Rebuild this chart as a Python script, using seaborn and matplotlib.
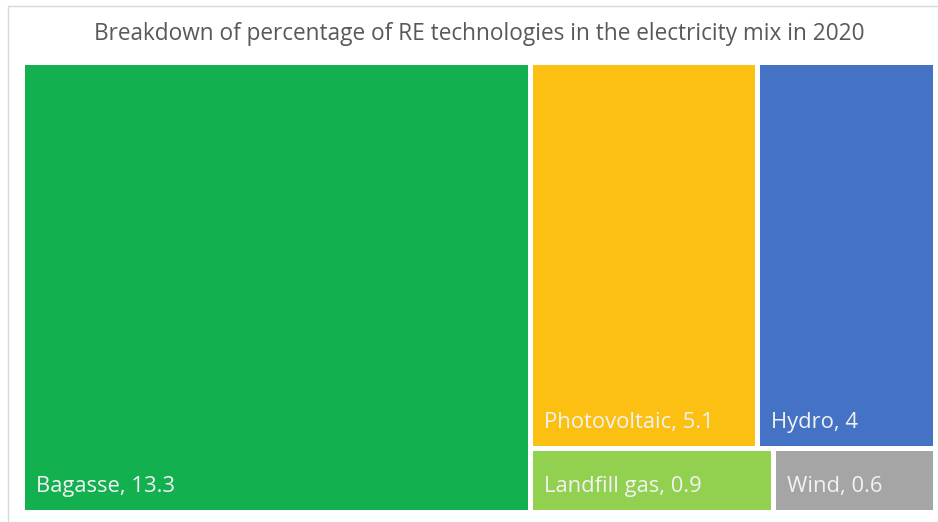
import matplotlib
matplotlib.use("Agg")
import matplotlib.pyplot as plt
from matplotlib.patches import Rectangle
import seaborn as sns

# ---- data ----
categories = ["Bagasse", "Photovoltaic", "Hydro", "Landfill gas", "Wind"]
values = [13.3, 5.1, 4.0, 0.9, 0.6]
colors = ["#13B04F", "#FBC012", "#4472C4", "#92D050", "#A5A5A5"]
title = "Breakdown of percentage of RE technologies in the electricity mix in 2020"

sns.set_theme(style="white")
plt.rcParams["font.family"] = ["Open Sans", "DejaVu Sans"]

W, H = 938, 522
fig = plt.figure(figsize=(W / 100, H / 100), dpi=100)
fig.patch.set_facecolor("white")

# thin frame (left/top) like the source image
frame = fig.add_axes([0, 0, 1, 1])
frame.set_xlim(0, W); frame.set_ylim(H, 0); frame.axis("off")
frame.plot([7.5, 7.5], [5.5, H], color="#D9D9D9", lw=1)
frame.plot([7.5, W], [5.5, 5.5], color="#D9D9D9", lw=1)

# plot area (extended by half the gap so white edges make the gutters)
L, R, T, B = 21.5, 934.5, 61.5, 511.5
ax = fig.add_axes([L / W, (H - B) / H, (R - L) / W, (B - T) / H])
ax.set_xlim(0, 1); ax.set_ylim(0, 1); ax.axis("off")

# Layout: the largest item takes a full-height column; the rest are
# arranged in rows of two, each row's height proportional to its sum.
total = sum(values)
rects = []
w0 = values[0] / total
rects.append((0, 0, w0, 1))
rest = values[1:]
rest_total = sum(rest)
rows = [rest[i:i + 2] for i in range(0, len(rest), 2)]
y_top = 1.0
for row in rows:
    h = sum(row) / rest_total
    x = w0
    for v in row:
        w = (1 - w0) * v / sum(row)
        rects.append((x, y_top - h, w, h))
        x += w
    y_top -= h

for (x, y, w, h), cat, val, col in zip(rects, categories, values, colors):
    ax.add_patch(Rectangle((x, y), w, h, facecolor=col, edgecolor="white", lw=3.6))
    lab = f"{cat}, {val:g}"
    ax.annotate(lab, xy=(x, y), xytext=(14.5, 19.5), textcoords="offset pixels",
                color="#F2F2F2", fontsize=15.8, ha="left", va="baseline")

fig.text(479 / W, 1 - 40 / H, title, ha="center", va="baseline", fontsize=16.3,
         color="#595959")

fig.savefig("out.png", dpi=100)
